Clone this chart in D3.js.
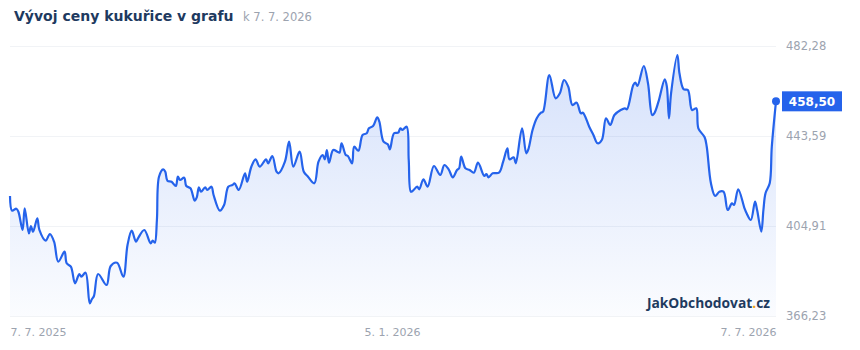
<!DOCTYPE html>
<html>
<head>
<meta charset="utf-8">
<script src="https://cdn.jsdelivr.net/npm/d3@7/dist/d3.min.js"></script>
<style>
  html, body { margin: 0; padding: 0; background: #ffffff; }
  svg { display: block; }
</style>
</head>
<body>
<div id="chart"></div>
<script>
// ---- data ----
const titleText = "Vývoj ceny kukuřice v grafu";
const subtitleText = "k 7. 7. 2026";
const startDate = "2025-07-07";
const endDate = "2026-07-07";
// day offsets from startDate
const dayOffsets = [0,1,3,4,6,7,9,10,11,13,14,17,19,21,23,26,27,29,31,33,34,36,38,39,40,42,46,48,51,54,56,58,60,61,64,67,68,69,70,71,73,74,75,77,79,80,81,83,84,86,88,89,90,91,93,94,96,97,100,102,104,106,107,109,112,113,115,117,119,122,123,125,127,128,131,133,135,138,140,142,145,147,149,150,151,152,154,156,157,158,160,161,163,164,166,168,170,171,173,175,176,178,180,181,183,185,186,187,189,190,191,192,194,195,197,199,202,205,207,209,211,213,214,215,217,219,221,223,226,227,228,230,233,235,237,238,240,241,244,246,247,249,251,253,254,257,260,262,264,266,268,270,272,273,276,278,280,282,284,286,288,291,293,294,297,298,299,302,304,306,307,309,312,313,314,315,318,319,321,323,325,327,328,331,332,334,336,338,340,342,344,345,347,350,351,353,355,356,358,359,360,362,363,365];
const prices = [417.81,411.49,412.35,411.06,403.20,412.52,401.78,404.92,402.47,408.23,403.20,398.60,401.48,398.17,389.57,393.87,388.88,387.42,380.29,384.29,383.13,384.84,371.69,373.41,374.83,384.29,379.56,387.72,389.14,383.13,396.75,402.90,398.17,399.63,403.20,397.48,398.60,397.74,407.49,426.10,429.29,428.25,424.39,423.96,422.11,426.10,424.69,425.68,422.11,421.12,415.79,417.25,421.55,419.66,421.55,420.39,421.81,418.24,411.49,413.94,421.81,422.54,423.27,420.39,427.57,423.96,430.40,433.58,430.40,433.58,431.86,435.00,428.25,427.57,432.55,441.15,430.40,436.85,428.25,426.10,423.27,432.55,435.43,433.58,437.58,432.12,437.58,436.85,436.42,440.46,435.43,435.00,431.86,439.00,437.28,444.03,444.76,446.91,447.90,451.64,449.74,441.15,440.03,437.88,444.76,445.02,446.91,446.18,447.60,433.28,419.66,420.09,421.81,420.69,424.99,421.81,430.70,426.84,431.13,429.29,425.85,428.98,429.72,434.70,429.72,428.98,427.82,432.12,426.41,427.27,425.85,427.57,427.82,432.55,438.31,433.58,434.44,431.86,446.91,436.16,437.88,446.18,451.21,453.61,454.04,469.82,459.80,461.95,467.67,464.79,456.92,457.91,453.35,453.61,447.60,444.03,440.46,441.88,451.21,448.33,452.62,454.77,455.50,455.07,465.52,466.51,465.09,473.68,466.25,452.62,453.35,458.34,467.97,464.79,451.21,461.95,478.41,470.55,463.67,463.37,454.77,455.50,446.91,443.04,439.00,423.27,417.81,419.66,419.66,411.79,414.67,413.94,420.69,412.52,410.37,407.49,415.36,411.79,402.47,411.79,418.97,423.27,439.00,458.50];
const yTicks = [366.23, 404.91, 443.59, 482.28];
const xTickDates = ["2025-07-07", "2026-01-05", "2026-07-07"];
const xTickLabels = ["7. 7. 2025", "5. 1. 2026", "7. 7. 2026"];
const lastLabel = "458,50";

// ---- layout ----
const W = 860, H = 350;
const mLeft = 10, mRight = 776, mTop = 46, mBottom = 316;
const parse = d3.timeParse("%Y-%m-%d");
const start = parse(startDate);
const data = dayOffsets.map((d, i) => ({ date: d3.timeDay.offset(start, d), v: prices[i] }));

const x = d3.scaleTime().domain([start, parse(endDate)]).range([mLeft, mRight]);
const y = d3.scaleLinear().domain([yTicks[0], yTicks[yTicks.length - 1]]).range([mBottom, mTop]);

const svg = d3.select("#chart").append("svg").attr("width", W).attr("height", H)
  .style("font-family", "'DejaVu Sans', sans-serif");

const defs = svg.append("defs");
const grad = defs.append("linearGradient").attr("id", "areaGrad")
  .attr("gradientUnits", "userSpaceOnUse")
  .attr("x1", 0).attr("x2", 0).attr("y1", mTop).attr("y2", mBottom);
grad.append("stop").attr("offset", "0%").attr("stop-color", "#2563eb").attr("stop-opacity", 0.2);
grad.append("stop").attr("offset", "100%").attr("stop-color", "#2563eb").attr("stop-opacity", 0.02);

// title
svg.append("text").attr("x", 14).attr("y", 21)
  .attr("font-size", 14).attr("font-weight", "bold").attr("fill", "#1e3a5f")
  .text(titleText);
svg.append("text").attr("x", 243).attr("y", 21)
  .attr("font-size", 11.5).attr("fill", "#9ca3af")
  .text(subtitleText);

// grid + y labels
const yAxis = d3.axisRight(y).tickValues(yTicks).tickSize(-(mRight - mLeft))
  .tickFormat(d => d.toFixed(2).replace(".", ","));
const ya = svg.append("g").attr("transform", `translate(${mRight},0)`).call(yAxis);
ya.select(".domain").remove();
ya.selectAll(".tick line").attr("stroke", "#f1f3f6").attr("stroke-width", 1);
ya.selectAll(".tick text").attr("x", 10).attr("fill", "#9ca3af")
  .attr("font-size", 11.5).attr("font-family", "'DejaVu Sans', sans-serif");

// x labels
const xAxis = d3.axisBottom(x).tickValues(xTickDates.map(parse)).tickSize(0)
  .tickFormat((d, i) => xTickLabels[i]);
const xa = svg.append("g").attr("transform", `translate(0,${mBottom})`).call(xAxis);
xa.select(".domain").remove();
xa.selectAll(".tick text").attr("y", 20).attr("dy", "0").attr("fill", "#9ca3af")
  .attr("font-size", 11).attr("font-family", "'DejaVu Sans', sans-serif")
  .attr("text-anchor", (d, i) => i === 0 ? "start" : (i === xTickDates.length - 1 ? "end" : "middle"));

// area + line
const curve = d3.curveCatmullRom.alpha(0.5);
const area = d3.area().x(d => x(d.date)).y0(mBottom).y1(d => y(d.v)).curve(curve);
const line = d3.line().x(d => x(d.date)).y(d => y(d.v)).curve(curve);
svg.append("path").datum(data).attr("d", area).attr("fill", "url(#areaGrad)");
svg.append("path").datum(data).attr("d", line).attr("fill", "none")
  .attr("stroke", "#2563eb").attr("stroke-width", 2.2).attr("stroke-linejoin", "round");

// watermark
const wm = svg.append("text").attr("x", 770).attr("y", 308).attr("text-anchor", "end")
  .attr("font-family", "'Open Sans', sans-serif").attr("font-weight", "bold")
  .attr("font-size", 13.8).attr("fill", "#1e3a5f");
wm.append("tspan").text("JakObchodovat");
wm.append("tspan").attr("fill", "#f59e0b").text(".");
wm.append("tspan").text("cz");

// last point marker + label
const last = data[data.length - 1];
svg.append("circle").attr("cx", x(last.date)).attr("cy", y(last.v)).attr("r", 4).attr("fill", "#2563eb");
const ly = y(last.v);
svg.append("rect").attr("x", 782).attr("y", ly - 10).attr("width", 60).attr("height", 20).attr("fill", "#2563eb");
svg.append("text").attr("x", 812).attr("y", ly + 4.5).attr("text-anchor", "middle")
  .attr("font-size", 12).attr("font-weight", "bold").attr("fill", "#ffffff").text(lastLabel);
</script>
</body>
</html>
